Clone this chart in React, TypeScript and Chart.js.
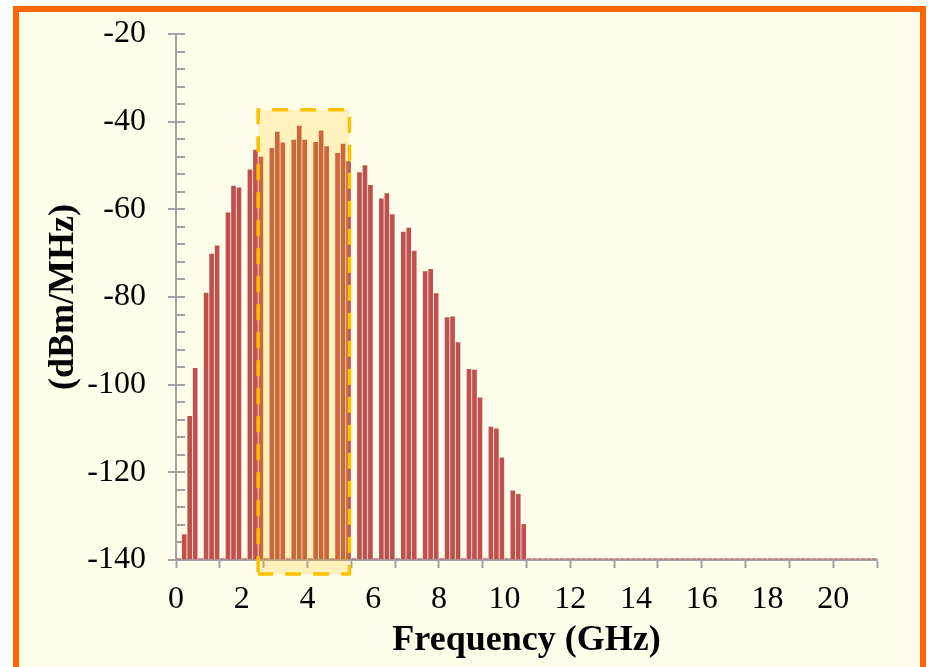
import React, { useEffect, useRef } from "react";
import { Chart, registerables } from "chart.js";

Chart.register(...registerables);

// Spectrum level per 1/6-GHz bin (dBm/MHz); 128 bins cover 0 – 21.33 GHz
const BIN_GHZ = 1 / 6;
const DBM: number[] = [
  -139.7, -134.2, -107.2, -96.3, -139.7, -79.1, -70.2, -68.3,
  -139.7, -60.8, -54.7, -55.1, -139.7, -51.0, -46.5, -48.1,
  -139.7, -46.1, -42.4, -44.8, -139.7, -44.2, -41.0, -44.2,
  -139.7, -44.7, -42.1, -45.7, -139.7, -47.2, -45.1, -49.1,
  -139.7, -51.6, -50.0, -54.5, -139.7, -57.6, -56.4, -61.2,
  -139.7, -65.2, -64.3, -69.5, -139.7, -74.2, -73.7, -79.2,
  -139.7, -84.7, -84.5, -90.4, -139.7, -96.5, -96.7, -103.0,
  -139.7, -109.7, -110.1, -116.7, -139.7, -124.2, -125.0, -131.9,
  -139.7, -139.7, -139.7, -139.7, -139.7, -139.7, -139.7, -139.7,
  -139.7, -139.7, -139.7, -139.7, -139.7, -139.7, -139.7, -139.7,
  -139.7, -139.7, -139.7, -139.7, -139.7, -139.7, -139.7, -139.7,
  -139.7, -139.7, -139.7, -139.7, -139.7, -139.7, -139.7, -139.7,
  -139.7, -139.7, -139.7, -139.7, -139.7, -139.7, -139.7, -139.7,
  -139.7, -139.7, -139.7, -139.7, -139.7, -139.7, -139.7, -139.7,
  -139.7, -139.7, -139.7, -139.7, -139.7, -139.7, -139.7, -139.7,
  -139.7, -139.7, -139.7, -139.7, -139.7, -139.7, -139.7, -139.7,
];
const BIN_LABELS = DBM.map((_, i) => ((i + 0.5) * BIN_GHZ).toFixed(3));

// axes
const X_MIN = 0;
const X_MAX = DBM.length * BIN_GHZ;
const X_LABEL_STEP = 2;
const X_MARK_STEP = 4 / 3;
const Y_MIN = -140;
const Y_MAX = -20;
const Y_MAJOR = 20;
const Y_MINOR = 4;

// highlighted band
const HIGHLIGHT_GHZ = [2.5, 5.28];
const HIGHLIGHT_DBM = [-37.3, -143.2];

const AXIS = "#A3A3A3";
const BAR = "#C0504D";
const FONT = "'Liberation Serif', 'Times New Roman', serif";

const isMult = (v: number, s: number) => Math.abs(v / s - Math.round(v / s)) < 1e-6;

const highlightPlugin = {
  id: "highlight",
  afterDatasetsDraw(chart: any) {
    const { ctx } = chart;
    const xs = chart.scales.x;
    const ys = chart.scales.y;
    const l = xs.getPixelForValue(HIGHLIGHT_GHZ[0]);
    const r = xs.getPixelForValue(HIGHLIGHT_GHZ[1]);
    const t = ys.getPixelForValue(HIGHLIGHT_DBM[0]);
    const b = ys.getPixelForValue(HIGHLIGHT_DBM[1]);
    ctx.save();
    ctx.fillStyle = "rgba(255,192,0,0.2)";
    ctx.fillRect(l, t, r - l, b - t);
    ctx.strokeStyle = "#FFC000";
    ctx.lineWidth = 3.5;
    ctx.setLineDash([16, 12]);
    const edge = (x1: number, y1: number, x2: number, y2: number, off: number) => {
      ctx.lineDashOffset = off;
      ctx.beginPath();
      ctx.moveTo(x1, y1);
      ctx.lineTo(x2, y2);
      ctx.stroke();
    };
    edge(l, t - 1.5, l, b + 1.5, 0);
    edge(l, t, r, t, 14);
    edge(r, t, r, b + 1.5, 21);
    edge(l, b, r, b, 1);
    ctx.restore();
  },
};

export default function App() {
  const ref = useRef<HTMLCanvasElement>(null);
  useEffect(() => {
    if (!ref.current) return;
    const chart = new Chart(ref.current, {
      type: "bar",
      data: {
        labels: BIN_LABELS,
        datasets: [
          {
            data: DBM,
            xAxisID: "xb",
            yAxisID: "y",
            base: Y_MIN,
            backgroundColor: BAR,
            borderWidth: 0,
            barThickness: 4,
          } as any,
        ],
      },
      options: {
        responsive: false,
        animation: false,
        layout: { padding: { left: 0, top: 22, right: 43, bottom: 0 } },
        plugins: { legend: { display: false }, tooltip: { enabled: false } },
        scales: {
          x: {
            type: "linear",
            position: "bottom",
            offset: false,
            min: X_MIN,
            max: X_MAX,
            afterBuildTicks: (scale: any) => {
              const vals: number[] = [];
              for (let k = 0; k * X_MARK_STEP <= X_MAX + 1e-6; k++) vals.push(k * X_MARK_STEP);
              for (let k = 0; k * X_LABEL_STEP <= X_MAX + 1e-6; k++) vals.push(k * X_LABEL_STEP);
              vals.sort((a, b) => a - b);
              const out: number[] = [];
              vals.forEach((v) => {
                if (!out.length || Math.abs(out[out.length - 1] - v) > 1e-6) out.push(v);
              });
              scale.ticks = out.map((v) => ({ value: v }));
            },
            afterFit: (scale: any) => {
              scale.height = 107;
            },
            ticks: {
              autoSkip: false,
              maxRotation: 0,
              padding: 12,
              color: "#000",
              font: { family: FONT, size: 32, lineHeight: 1.2 },
              callback: (v: any) => (isMult(Number(v), X_LABEL_STEP) ? String(Math.round(Number(v))) : ""),
            },
            grid: {
              offset: false,
              drawOnChartArea: false,
              drawTicks: true,
              tickLength: 8,
              tickWidth: 2,
              tickColor: (c: any) => (c.tick && isMult(c.tick.value, X_MARK_STEP) ? AXIS : "transparent"),
            },
            border: { display: true, color: AXIS, width: 2 },
            title: {
              display: true,
              text: "Frequency (GHz)",
              color: "#000",
              font: { family: FONT, size: 36, weight: "bold", lineHeight: 1.2 },
              padding: { top: 0, bottom: 5 },
            },
          },
          xb: {
            type: "category",
            position: "bottom",
            display: false,
            offset: true,
            grid: { display: false },
          },
          y: {
            type: "linear",
            position: "left",
            min: Y_MIN,
            max: Y_MAX,
            beginAtZero: false,
            afterBuildTicks: (scale: any) => {
              const t: any[] = [];
              for (let k = 0; Y_MIN + k * Y_MINOR <= Y_MAX; k++) t.push({ value: Y_MIN + k * Y_MINOR });
              scale.ticks = t;
            },
            afterFit: (scale: any) => {
              scale.width = 157;
              scale.paddingTop = 0;
              scale.paddingBottom = 0;
            },
            ticks: {
              autoSkip: false,
              padding: 22,
              color: "#000",
              font: { family: FONT, size: 32, lineHeight: 1.2 },
              callback: (v: any) => (isMult(Number(v), Y_MAJOR) ? String(v) : ""),
            },
            grid: {
              drawOnChartArea: true,
              color: AXIS,
              lineWidth: 2,
              drawTicks: true,
              tickLength: 8,
              tickWidth: 2,
              tickColor: (c: any) => (c.tick && isMult(c.tick.value, Y_MAJOR) ? AXIS : "transparent"),
            },
            border: { display: true, color: AXIS, width: 2, dash: [8, 4000] },
            title: {
              display: true,
              text: "(dBm/MHz)",
              color: "#000",
              font: { family: FONT, size: 36, weight: "bold", lineHeight: 1.2 },
              padding: { top: 23, bottom: 0 },
            },
          },
        },
      } as any,
      plugins: [highlightPlugin],
    });
    return () => chart.destroy();
  }, []);

  return (
    <div
      style={{
        position: "fixed",
        left: 0,
        top: 0,
        width: 928,
        height: 667,
        overflow: "hidden",
        background: "#ffffff",
      }}
    >
      <div
        style={{
          position: "absolute",
          left: 13,
          top: 6,
          width: 913,
          height: 700,
          border: "6px solid #FF6600",
          boxSizing: "border-box",
          background: "#FFFEEB",
        }}
      >
        <canvas ref={ref} width={901} height={655} style={{ display: "block", width: 901, height: 655 }} />
      </div>
    </div>
  );
}
